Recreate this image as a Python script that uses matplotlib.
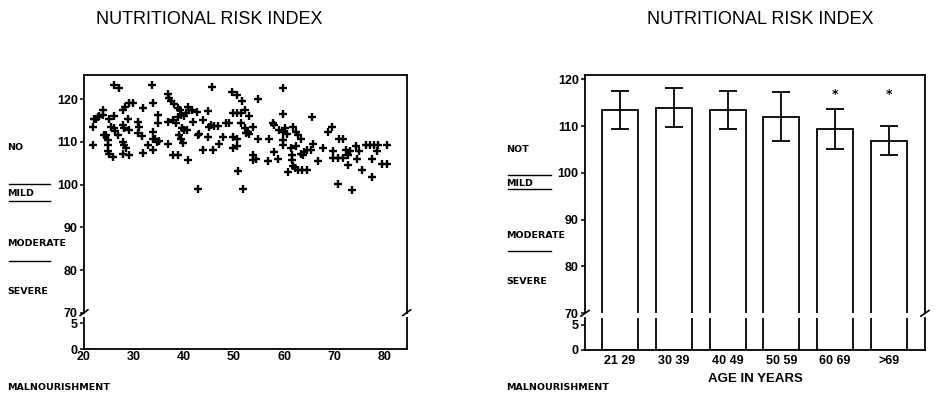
import numpy as np
import matplotlib
matplotlib.use("Agg")
import matplotlib.pyplot as plt
from matplotlib.lines import Line2D

# scatter: age vs nutritional risk index
ages = [21.7, 22.0, 22.7, 23.0, 21.7, 23.7, 23.7, 22.3, 24.0, 24.3, 24.7, 24.7, 24.7, 25.0, 25.7,
        25.3, 25.9, 26.0, 24.9, 26.0, 26.9, 26.7, 26.2, 27.7, 28.2, 29.0, 29.7, 27.7, 28.0, 28.7,
        28.9, 27.7, 28.0, 28.3, 27.8, 28.9, 30.7, 31.0, 30.7, 31.5, 31.7, 31.7, 32.7, 33.5, 33.7,
        33.7, 33.7, 34.1, 34.5, 33.7, 34.7, 34.7, 34.9, 36.7, 36.9, 37.3, 38.0, 38.7, 39.1, 36.7,
        36.7, 37.7, 38.7, 37.7, 38.3, 38.7, 39.3, 39.0, 39.3, 39.7, 39.5, 40.0, 40.5, 40.7, 41.0,
        41.5, 40.3, 39.9, 40.7, 41.7, 42.5, 42.7, 42.9, 42.7, 43.7, 43.8, 44.7, 44.7, 44.9, 45.3,
        45.5, 45.7, 46.0, 46.7, 47.0, 47.7, 48.3, 49.0, 49.7, 50.5, 51.3, 52.2, 49.5, 50.5, 51.5,
        49.7, 50.5, 49.7, 50.5, 50.7, 51.7, 51.3, 52.2, 52.7, 52.9, 52.3, 53.0, 53.7, 53.7, 53.7,
        54.3, 54.7, 54.7, 56.7, 57.0, 57.7, 58.0, 58.0, 58.7, 59.7, 59.7, 59.0, 59.7, 60.2, 60.5,
        59.7, 59.7, 60.7, 61.7, 62.3, 62.7, 63.3, 61.3, 61.5, 61.5, 61.7, 62.2, 62.8, 63.5, 64.5,
        62.3, 63.3, 63.8, 64.0, 64.5, 65.3, 65.5, 65.7, 66.7, 67.7, 68.7, 69.5, 69.7, 69.7, 70.7,
        71.7, 72.7, 70.7, 70.9, 71.7, 72.3, 72.7, 73.1, 73.5, 74.3, 74.9, 75.5, 74.5, 76.3, 77.1,
        77.9, 78.7, 77.5, 77.5, 78.5, 79.5, 80.5, 80.5]
nri = [113.6, 115.3, 115.8, 116.1, 109.3, 117.5, 116.3, 115.3, 111.6, 111.6, 110.4, 109.3, 107.9, 107.3, 106.5,
       113.6, 113.2, 116.1, 115.5, 123.4, 122.6, 111.6, 112.6, 117.5, 118.3, 119.1, 119.2, 114.0, 113.2, 115.3,
       112.8, 110.0, 109.3, 108.7, 107.3, 106.9, 114.7, 113.6, 112.0, 111.4, 117.9, 107.5, 109.3, 123.4, 119.1,
       112.4, 110.6, 110.8, 110.0, 108.1, 116.3, 114.4, 110.2, 121.3, 120.2, 119.5, 118.9, 118.0, 117.5, 114.7,
       109.6, 106.9, 106.9, 115.1, 114.5, 115.9, 116.3, 111.6, 110.8, 109.8, 113.2, 112.8, 112.8, 118.3, 117.5,
       117.5, 116.7, 116.1, 105.7, 114.7, 117.1, 111.6, 111.8, 99.1, 115.1, 108.1, 117.3, 111.2, 113.6, 114.1,
       122.8, 108.1, 113.7, 113.7, 109.6, 111.1, 114.5, 114.5, 116.9, 116.9, 116.9, 117.5, 121.8, 121.0, 119.7,
       111.1, 110.6, 108.5, 109.0, 103.2, 99.1, 114.4, 113.2, 112.4, 116.1, 112.0, 111.8, 113.6, 105.7, 106.9,
       106.1, 120.0, 110.6, 105.6, 110.6, 114.4, 114.0, 107.7, 106.1, 122.6, 116.5, 112.8, 112.4, 113.2, 111.8,
       110.4, 109.3, 103.0, 113.6, 112.4, 111.6, 110.7, 108.5, 106.9, 105.7, 104.3, 103.8, 103.4, 103.4, 103.4,
       109.0, 107.1, 106.9, 107.7, 108.1, 108.1, 115.8, 109.6, 105.6, 108.7, 112.4, 113.6, 107.9, 106.3, 106.3,
       106.3, 106.9, 100.2, 110.7, 110.7, 108.1, 104.5, 107.9, 98.7, 109.1, 107.9, 103.4, 106.1, 109.3, 109.3,
       109.3, 109.3, 106.1, 101.8, 107.9, 104.8, 104.8, 109.3]

# bar chart: mean NRI by age group
groups = ["21 29", "30 39", "40 49", "50 59", "60 69", ">69"]
means = [113.4, 113.9, 113.4, 112.0, 109.3, 106.9]
errs = [4.1, 4.2, 4.1, 5.2, 4.3, 3.1]
starred = [False, False, False, False, True, True]
star_level = 116.8

title = "NUTRITIONAL RISK INDEX"
W, H = 940, 396
fig = plt.figure(figsize=(W / 100, H / 100), dpi=100)

tickfont = {"family": "Liberation Sans", "weight": "bold", "size": 9}
lblfont = {"family": "DejaVu Sans", "weight": "bold", "size": 6.8}


def px(x0, y0, x1, y1):
    # pixel box -> figure fraction
    return [x0 / W, 1 - y1 / H, (x1 - x0) / W, (y1 - y0) / H]


def style(ax, top_part):
    for s in ax.spines.values():
        s.set_linewidth(1.3)
    ax.spines["top"].set_visible(top_part)
    ax.spines["bottom"].set_visible(not top_part)
    ax.tick_params(direction="out", length=3, width=1.1, pad=1.5)
    for lab in ax.get_yticklabels() + ax.get_xticklabels():
        lab.set_fontfamily(tickfont["family"])
        lab.set_fontweight("bold")
        lab.set_fontsize(tickfont["size"])


def breaks(ax):
    d = 0.012
    for x in (0, 1):
        ax.plot([x - d, x + d], [-0.012, 0.012], transform=ax.transAxes,
                color="black", lw=1.2, clip_on=False)


# ---- left panel ----
axT = fig.add_axes(px(84, 75, 406.7, 312.7))
axB = fig.add_axes(px(84, 318, 406.7, 349.3))
for ax in (axT, axB):
    ax.scatter(ages, nri, marker="+", s=36, linewidths=1.7, color="black", clip_on=True)
    ax.set_xlim(20, 84.5)
axT.set_ylim(70, 125.7)
axB.set_ylim(0, 6.0)
axT.set_yticks([70, 80, 90, 100, 110, 120])
axT.set_xticks([])
axB.set_yticks([0, 5])
axB.set_xticks([20, 30, 40, 50, 60, 70, 80])
style(axT, True)
style(axB, False)
axB.tick_params(axis="x", length=0, pad=1)
breaks(axT)

# ---- right panel ----
xs = np.arange(len(groups))
bT = fig.add_axes(px(585, 75, 925, 313.3))
bB = fig.add_axes(px(585, 318, 925, 349.5))
for ax in (bT, bB):
    ax.bar(xs, means, width=0.67, color="white", edgecolor="black", linewidth=1.3)
    ax.set_xlim(-0.65, 5.67)
bT.errorbar(xs, means, yerr=errs, fmt="none", ecolor="black", elinewidth=1.3,
            capsize=6.8, capthick=1.3)
for x, s in zip(xs, starred):
    if s:
        bT.text(x, star_level, "*", ha="center", va="center", fontsize=9, fontweight="bold")
bT.set_ylim(70, 120.9)
bB.set_ylim(0, 6.4)
bT.set_yticks([70, 80, 90, 100, 110, 120])
bT.set_xticks([])
bB.set_yticks([0, 5])
bB.set_xticks(xs)
bB.set_xticklabels(groups)
style(bT, True)
style(bB, False)
bB.tick_params(axis="x", length=0, pad=4)
breaks(bT)
fig.text(755 / W, 1 - 379 / H, "AGE IN YEARS", ha="center", va="center",
         fontfamily="Liberation Sans", fontweight="bold", fontsize=9.5)

# ---- titles ----
fig.text(209 / W, 1 - 19 / H, title, ha="center", va="center",
         fontfamily="Liberation Sans", fontsize=13)
fig.text(760 / W, 1 - 19 / H, title, ha="center", va="center",
         fontfamily="Liberation Sans", fontsize=13)

# ---- category labels at left of each panel ----
def side(x, items, lines, xl0, xl1):
    for y, t in items:
        fig.text(x / W, 1 - y / H, t, ha="left", va="center", **lblfont)
    for y in lines:
        fig.add_artist(Line2D([xl0 / W, xl1 / W], [1 - y / H, 1 - y / H],
                              color="black", lw=1.0))


side(7, [(147, "NO"), (194, "MILD"), (243, "MODERATE"), (292, "SEVERE"),
         (387, "MALNOURISHMENT")], [184, 201, 261], 9, 50)
side(506, [(149, "NOT"), (183, "MILD"), (236, "MODERATE"), (282, "SEVERE"),
           (388, "MALNOURISHMENT")], [175, 188.5, 251], 508, 551)

fig.savefig("out.png", dpi=100)
